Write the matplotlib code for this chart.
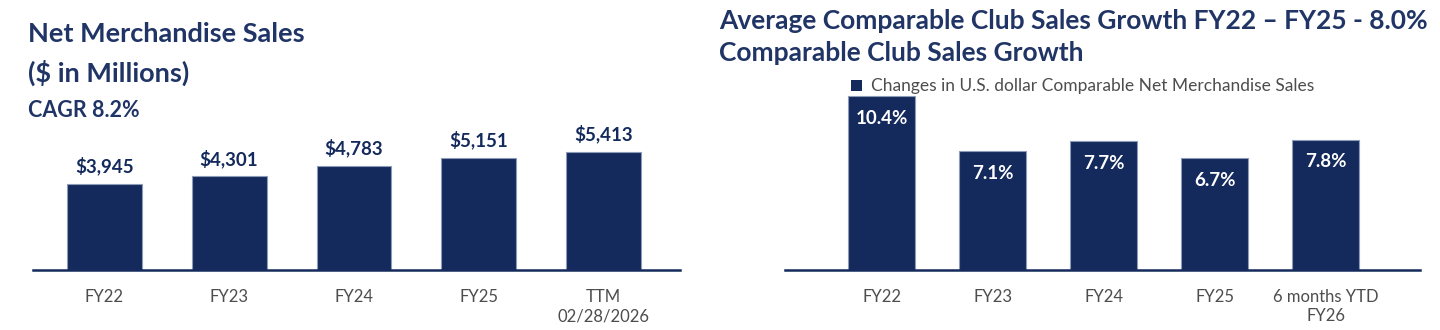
import matplotlib
matplotlib.use("Agg")
import matplotlib.pyplot as plt
from matplotlib.patches import Rectangle

# data
sales_cats = ["FY22", "FY23", "FY24", "FY25", "TTM\n02/28/2026"]
sales_vals = [3945, 4301, 4783, 5151, 5413]
sales_labels = ["$3,945", "$4,301", "$4,783", "$5,151", "$5,413"]

comp_cats = ["FY22", "FY23", "FY24", "FY25", "6 months YTD\nFY26"]
comp_vals = [10.4, 7.1, 7.7, 6.7, 7.8]

NAVY = "#142a5c"
TITLE = "#203566"
GRAY = "#4d4d4d"
EDGE = "#8d9bb8"

W, H = 1440, 330
fig = plt.figure(figsize=(W / 100, H / 100), dpi=100)


def fx(px):
    return px / W


def fy(py):
    return 1 - py / H


title_font = ["Lato", "DejaVu Sans"]
label_font = ["Lato", "DejaVu Sans"]

# ---- left: net merchandise sales
ax1 = fig.add_axes([fx(33), fy(270), fx(647), 140 / H])
x1 = range(len(sales_cats))
ax1.bar(x1, sales_vals, width=0.6, color=NAVY, edgecolor=EDGE, linewidth=0.8, zorder=2)
for i, (v, lab) in enumerate(zip(sales_vals, sales_labels)):
    ax1.annotate(lab, (i, v), xytext=(0, 6), textcoords="offset points",
                 ha="center", va="bottom", fontsize=13.5, fontweight="bold",
                 color=NAVY, family=label_font)
ax1.set_xlim(-0.57, 4.61)
ax1.set_ylim(0, 6420)
ax1.set_xticks(list(x1))
ax1.set_xticklabels(sales_cats, fontsize=12, color=GRAY, family=label_font,
                    linespacing=1.2)
ax1.tick_params(axis="x", length=0, pad=14)
ax1.set_yticks([])
for s in ["top", "right", "left"]:
    ax1.spines[s].set_visible(False)
ax1.spines["bottom"].set_color(NAVY)
ax1.spines["bottom"].set_linewidth(1.8)

fig.text(fx(28), fy(42), "Net Merchandise Sales", fontsize=19.5, fontweight="bold",
         color=TITLE, family=title_font, va="baseline")
fig.text(fx(28), fy(82), "($ in Millions)", fontsize=19.5, fontweight="bold",
         color=TITLE, family=title_font, va="baseline")
fig.text(fx(28), fy(117), "CAGR 8.2%", fontsize=15.5, fontweight="bold",
         color=TITLE, family=title_font, va="baseline")

# ---- right: comparable club sales growth
ax2 = fig.add_axes([fx(785), fy(270), fx(635), 180 / H])
x2 = range(len(comp_cats))
ax2.bar(x2, comp_vals, width=0.6, color=NAVY, edgecolor=EDGE, linewidth=0.8, zorder=2)
for i, v in enumerate(comp_vals):
    ax2.annotate(f"{v:.1f}%", (i, v), xytext=(0, -16), textcoords="offset points",
                 ha="center", va="center", fontsize=13.5, fontweight="bold",
                 color="white", family=label_font)
ax2.set_xlim(-0.87, 4.85)
ax2.set_ylim(0, 10.76)
ax2.set_xticks(list(x2))
ax2.set_xticklabels(comp_cats, fontsize=12, color=GRAY, family=label_font,
                    linespacing=1.2)
ax2.tick_params(axis="x", length=0, pad=14)
ax2.set_yticks([])
for s in ["top", "right", "left"]:
    ax2.spines[s].set_visible(False)
ax2.spines["bottom"].set_color(NAVY)
ax2.spines["bottom"].set_linewidth(1.8)

fig.text(fx(719), fy(29), "Average Comparable Club Sales Growth FY22 \u2013 FY25 - 8.0%",
         fontsize=19, fontweight="bold", color=TITLE, family=title_font, va="baseline")
fig.text(fx(719), fy(61), "Comparable Club Sales Growth",
         fontsize=19, fontweight="bold", color=TITLE, family=title_font, va="baseline")

# legend
fig.patches.append(Rectangle((fx(851), fy(91)), fx(11), 11 / H, transform=fig.transFigure,
                             facecolor=NAVY, edgecolor="none"))
fig.text(fx(871), fy(91), "Changes in U.S. dollar Comparable Net Merchandise Sales",
         fontsize=12.5, color=GRAY, family=label_font, va="baseline")

fig.savefig("out.png", dpi=100, facecolor="white")
